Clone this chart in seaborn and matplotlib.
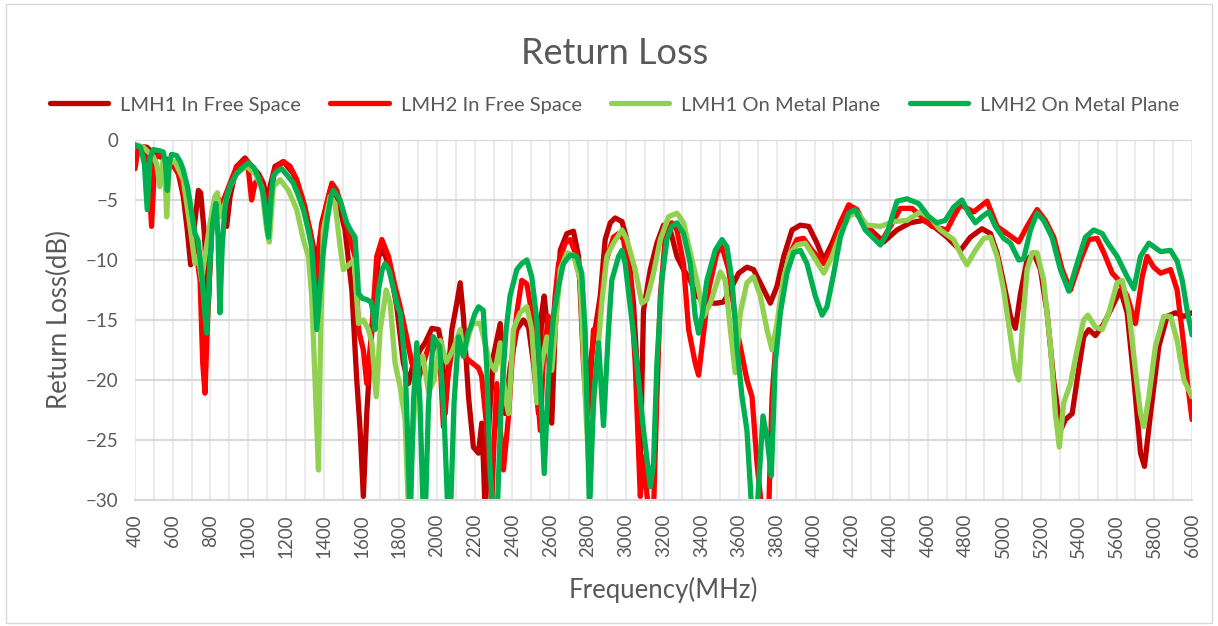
import matplotlib

matplotlib.use("Agg")
import matplotlib.pyplot as plt
import numpy as np
import pandas as pd
import seaborn as sns
from matplotlib.patches import Rectangle

SERIES_NAMES = [
    "LMH1 In Free Space",
    "LMH2 In Free Space",
    "LMH1 On Metal Plane",
    "LMH2 On Metal Plane",
]
SERIES_COLORS = ["#C00000", "#FF0000", "#92D050", "#00B050"]

X_TICKS = list(range(400, 6001, 200))
Y_TICKS = [0, -5, -10, -15, -20, -25, -30]

# (frequency MHz, return loss dB)
lmh1_free = [
    (400, -0.5), (462, -0.6), (497, -1.1), (532, -1.4), (585, -1.7), (630, -2.8), (656, -4.7),
    (677, -7.5), (695, -10.4), (713, -7.5), (736, -4.2), (748, -4.4), (766, -7.5), (789, -13.6),
    (806, -7.5), (833, -5.3), (860, -5.6), (886, -7.2), (904, -4.7), (939, -2.2), (983, -1.5),
    (1018, -2.2), (1054, -2.8), (1080, -3.6), (1100, -5.0), (1120, -3.6), (1142, -2.2),
    (1186, -1.8), (1239, -2.8), (1283, -4.7), (1327, -7.5), (1363, -10.3), (1390, -6.9),
    (1434, -4.2), (1469, -4.7), (1513, -7.5), (1549, -12.5), (1575, -20.0), (1593, -24.2),
    (1610, -29.7), (1628, -22.8), (1655, -15.8), (1690, -9.7), (1716, -9.2), (1752, -10.8),
    (1787, -13.9), (1822, -18.6), (1849, -20.3), (1875, -18.6), (1911, -17.5), (1937, -16.9),
    (1973, -15.7), (2008, -15.8), (2026, -17.2), (2043, -22.8), (2061, -19.0), (2079, -15.8),
    (2105, -13.6), (2123, -11.9), (2140, -14.7), (2167, -21.4), (2193, -25.6), (2220, -26.1),
    (2237, -23.6), (2246, -26.9), (2255, -31.0), (2270, -25.0), (2299, -18.0), (2335, -15.3),
    (2361, -22.8), (2387, -19.0), (2423, -15.8), (2458, -15.0), (2485, -15.6), (2511, -18.6),
    (2538, -22.8), (2555, -14.4), (2568, -13.0), (2586, -15.8), (2608, -23.6), (2626, -15.8),
    (2653, -9.2), (2688, -7.8), (2723, -7.6), (2750, -9.7), (2776, -18.6), (2794, -22.8),
    (2812, -18.6), (2838, -15.8), (2865, -13.0), (2891, -8.3), (2918, -6.9), (2944, -6.5),
    (2980, -6.8), (3006, -8.3), (3041, -13.6), (3059, -18.6), (3077, -26.4), (3094, -14.2),
    (3130, -10.8), (3165, -8.6), (3200, -7.1), (3236, -7.5), (3271, -9.7), (3306, -10.8),
    (3342, -11.7), (3377, -13.0), (3430, -13.6), (3483, -13.6), (3518, -13.5), (3554, -12.5),
    (3598, -11.1), (3642, -10.6), (3677, -10.8), (3722, -12.2), (3766, -13.6), (3801, -12.2),
    (3837, -9.7), (3881, -7.5), (3925, -7.1), (3969, -7.2), (4013, -8.6), (4049, -10.0),
    (4093, -8.6), (4137, -6.9), (4181, -5.6), (4225, -6.2), (4278, -7.2), (4366, -8.5),
    (4437, -7.5), (4507, -6.9), (4578, -6.7), (4631, -7.2), (4702, -8.1), (4773, -9.2),
    (4826, -8.1), (4887, -7.4), (4932, -7.8), (4967, -9.4), (5002, -11.9), (5038, -14.7),
    (5064, -15.7), (5091, -12.8), (5126, -10.0), (5161, -9.4), (5197, -10.8), (5232, -14.4),
    (5267, -20.0), (5303, -24.2), (5329, -23.3), (5365, -22.8), (5391, -20.0), (5426, -16.4),
    (5453, -15.8), (5488, -16.3), (5533, -15.3), (5586, -13.6), (5621, -12.5), (5656, -14.4),
    (5692, -20.0), (5727, -26.1), (5748, -27.2), (5780, -22.8), (5824, -17.2), (5868, -14.7),
    (5912, -14.4), (5957, -14.7), (6000, -14.4),
]

lmh2_free = [
    (400, -2.4), (418, -0.6), (453, -0.7), (471, -2.5), (488, -7.2), (506, -1.4), (541, -1.25),
    (568, -1.7), (603, -1.9), (638, -3.1), (674, -5.3), (700, -7.8), (727, -9.7), (745, -11.7),
    (759, -18.6), (771, -21.1), (783, -15.8), (806, -6.9), (833, -4.7), (860, -5.3), (877, -4.7),
    (904, -3.6), (939, -2.2), (983, -1.7), (1001, -2.5), (1018, -5.0), (1036, -3.6),
    (1063, -3.1), (1098, -5.6), (1115, -4.7), (1142, -2.5), (1186, -1.8), (1222, -2.2),
    (1257, -3.3), (1301, -5.6), (1336, -8.3), (1363, -13.0), (1381, -8.1), (1416, -5.3),
    (1443, -3.6), (1469, -4.2), (1504, -6.1), (1540, -8.3), (1566, -9.7), (1584, -15.8),
    (1610, -17.5), (1628, -20.3), (1655, -15.8), (1681, -9.7), (1708, -8.3), (1743, -9.7),
    (1778, -12.2), (1805, -13.9), (1831, -15.8), (1867, -18.6), (1900, -20.0), (1940, -18.0),
    (1973, -16.4), (2000, -17.0), (2017, -18.6), (2034, -23.9), (2055, -20.0), (2080, -17.5),
    (2110, -16.5), (2140, -18.0), (2180, -18.5), (2220, -19.0), (2237, -19.7), (2264, -24.0),
    (2290, -30.5), (2300, -26.0), (2317, -20.3), (2335, -24.0), (2352, -27.5), (2379, -23.0),
    (2397, -18.6), (2423, -14.4), (2449, -11.7), (2476, -12.0), (2502, -14.4), (2529, -20.0),
    (2547, -24.2), (2564, -18.0), (2591, -14.7), (2608, -16.9), (2626, -13.0), (2644, -10.3),
    (2679, -8.6), (2705, -8.3), (2741, -9.7), (2767, -13.0), (2794, -21.4), (2803, -22.8),
    (2829, -15.8), (2847, -16.1), (2891, -10.3), (2935, -8.1), (2962, -7.8), (2988, -8.3),
    (3024, -11.7), (3050, -18.6), (3077, -29.7), (3094, -26.4), (3121, -31.0), (3147, -31.0),
    (3165, -21.4), (3183, -13.0), (3209, -8.3), (3244, -6.9), (3271, -7.5), (3306, -10.3),
    (3333, -15.8), (3368, -18.6), (3386, -19.6), (3404, -17.2), (3439, -12.5), (3483, -9.4),
    (3510, -8.9), (3545, -10.8), (3589, -15.8), (3642, -20.0), (3669, -21.4), (3695, -26.9),
    (3722, -31.0), (3757, -31.0), (3775, -21.4), (3801, -15.8), (3837, -11.7), (3872, -9.4),
    (3907, -8.3), (3942, -8.2), (3987, -9.2), (4049, -10.3), (4093, -9.2), (4137, -6.9),
    (4181, -5.4), (4225, -5.8), (4278, -7.5), (4349, -8.6), (4402, -7.2), (4455, -5.7),
    (4516, -5.7), (4569, -6.4), (4622, -7.2), (4702, -7.5), (4737, -6.4), (4773, -5.4),
    (4843, -6.0), (4914, -5.1), (4967, -7.2), (5020, -7.8), (5082, -8.5), (5126, -7.2),
    (5179, -5.8), (5223, -6.7), (5267, -8.1), (5312, -10.8), (5356, -12.5), (5409, -10.0),
    (5453, -8.3), (5497, -8.2), (5533, -9.4), (5577, -11.1), (5612, -11.7), (5656, -13.0),
    (5700, -15.3), (5736, -11.4), (5762, -9.7), (5797, -10.6), (5833, -11.1), (5886, -10.8),
    (5921, -12.5), (5957, -17.2), (5974, -20.0), (6000, -23.3),
]

lmh1_metal = [
    (400, -0.4), (444, -0.6), (497, -1.4), (515, -2.0), (532, -3.9), (550, -1.7), (560, -3.0),
    (568, -6.4), (582, -1.9), (612, -1.8), (656, -3.3), (692, -7.2), (718, -10.3), (736, -9.7),
    (753, -11.7), (771, -9.7), (798, -6.9), (824, -4.7), (837, -4.4), (851, -6.4), (877, -5.3),
    (904, -3.9), (939, -2.8), (992, -2.2), (1036, -2.8), (1071, -3.9), (1098, -7.5),
    (1112, -8.5), (1133, -3.9), (1169, -3.3), (1213, -4.2), (1257, -5.8), (1292, -8.3),
    (1319, -9.7), (1336, -13.0), (1354, -20.0), (1372, -27.5), (1384, -15.8), (1398, -7.5),
    (1434, -4.7), (1460, -5.3), (1487, -8.9), (1504, -10.8), (1540, -10.3), (1561, -10.0),
    (1584, -15.3), (1610, -15.0), (1637, -15.8), (1655, -16.9), (1678, -21.4), (1699, -15.8),
    (1731, -12.5), (1752, -13.6), (1778, -18.6), (1805, -20.6), (1831, -23.3), (1849, -31.0),
    (1870, -25.0), (1895, -19.0), (1925, -18.0), (1955, -21.0), (1985, -20.0), (2017, -16.7),
    (2050, -18.5), (2085, -17.5), (2123, -15.8), (2140, -18.0), (2185, -15.3), (2229, -15.3),
    (2246, -16.4), (2281, -18.6), (2308, -19.2), (2335, -16.9), (2361, -21.4), (2379, -22.8),
    (2405, -15.8), (2440, -14.4), (2476, -13.9), (2502, -15.8), (2529, -21.9), (2555, -18.6),
    (2582, -16.4), (2608, -19.2), (2626, -15.8), (2653, -10.8), (2688, -9.4), (2723, -9.6),
    (2759, -11.7), (2785, -21.4), (2803, -26.9), (2820, -24.0), (2847, -18.6), (2873, -13.6),
    (2900, -9.7), (2935, -8.6), (2980, -7.5), (3006, -8.3), (3050, -10.8), (3085, -13.6),
    (3112, -13.3), (3147, -11.1), (3183, -8.3), (3227, -6.4), (3271, -6.1), (3306, -6.9),
    (3342, -9.4), (3377, -11.7), (3413, -14.7), (3448, -13.6), (3501, -11.0), (3527, -11.7),
    (3554, -15.8), (3580, -19.4), (3607, -14.4), (3642, -11.9), (3677, -11.4), (3713, -13.0),
    (3748, -15.8), (3775, -17.5), (3801, -15.3), (3837, -11.4), (3872, -9.4), (3907, -8.75),
    (3951, -8.6), (3995, -9.7), (4049, -11.1), (4093, -9.7), (4137, -7.8), (4181, -6.4),
    (4225, -6.0), (4278, -7.1), (4349, -7.2), (4419, -6.8), (4490, -6.7), (4560, -6.0),
    (4614, -6.5), (4667, -7.5), (4737, -8.3), (4781, -9.7), (4808, -10.4), (4852, -9.2),
    (4896, -8.2), (4932, -8.1), (4967, -9.7), (5002, -12.5), (5038, -16.4), (5064, -19.2),
    (5082, -20.0), (5100, -15.8), (5126, -10.8), (5153, -9.4), (5179, -9.4), (5214, -11.7),
    (5250, -17.2), (5276, -22.8), (5297, -25.6), (5320, -21.9), (5356, -20.3), (5391, -17.5),
    (5426, -15.0), (5448, -14.6), (5488, -15.6), (5524, -15.8), (5559, -14.4), (5603, -11.9),
    (5630, -11.7), (5665, -14.2), (5700, -19.2), (5727, -22.8), (5745, -23.9), (5771, -21.4),
    (5806, -17.2), (5850, -14.7), (5886, -14.7), (5921, -16.7), (5957, -20.0), (6000, -21.4),
]

lmh2_metal = [
    (400, -0.4), (430, -0.6), (450, -2.0), (465, -5.8), (480, -1.5), (497, -0.8), (530, -0.9),
    (550, -1.0), (562, -2.0), (571, -4.2), (582, -2.0), (594, -1.2), (620, -1.3), (640, -1.8),
    (656, -2.5), (680, -4.0), (700, -6.0), (718, -7.8), (735, -8.4), (755, -11.5), (770, -14.5),
    (780, -16.1), (795, -11.0), (810, -7.0), (829, -5.3), (840, -8.0), (850, -14.4), (862, -9.0),
    (875, -6.0), (886, -4.7), (910, -3.6), (939, -2.8), (970, -2.3), (1001, -1.9), (1030, -2.3),
    (1054, -3.1), (1080, -4.5), (1095, -6.5), (1107, -8.1), (1120, -5.0), (1133, -3.0),
    (1155, -2.6), (1177, -2.4), (1210, -3.0), (1239, -3.6), (1265, -4.6), (1292, -5.8),
    (1315, -7.3), (1336, -8.9), (1350, -12.0), (1363, -15.8), (1378, -13.0), (1398, -9.3),
    (1420, -6.5), (1440, -4.6), (1451, -4.2), (1470, -4.6), (1487, -5.0), (1505, -6.0),
    (1522, -6.9), (1545, -7.6), (1566, -8.1), (1576, -10.5), (1584, -12.8), (1605, -13.2),
    (1628, -13.3), (1650, -13.5), (1660, -14.2), (1672, -15.8), (1690, -12.5), (1710, -10.8),
    (1725, -10.3), (1745, -10.8), (1770, -12.4), (1790, -13.8), (1805, -14.4), (1831, -18.6),
    (1845, -25.0), (1858, -32.0), (1875, -22.0), (1893, -16.9), (1910, -22.0), (1925, -30.0),
    (1937, -32.0), (1955, -22.0), (1981, -16.4), (1995, -16.8), (2015, -17.2), (2040, -24.0),
    (2055, -30.0), (2070, -32.0), (2090, -22.0), (2114, -16.4), (2140, -18.0), (2165, -16.0),
    (2176, -15.7), (2200, -14.5), (2220, -13.9), (2245, -14.2), (2264, -19.0), (2280, -27.0),
    (2300, -32.0), (2317, -32.0), (2340, -22.0), (2365, -16.0), (2387, -13.0), (2423, -10.8),
    (2449, -10.3), (2476, -10.0), (2502, -11.4), (2529, -15.0), (2547, -20.0), (2568, -27.8),
    (2590, -20.0), (2617, -14.7), (2644, -12.2), (2670, -10.3), (2705, -9.6), (2741, -9.7),
    (2767, -11.1), (2785, -16.0), (2797, -24.0), (2808, -31.0), (2830, -21.4), (2856, -16.9),
    (2882, -23.8), (2908, -16.0), (2926, -11.7), (2962, -9.7), (2980, -9.2), (2997, -10.3),
    (3024, -13.9), (3059, -18.6), (3094, -24.2), (3130, -28.9), (3147, -27.0), (3165, -18.6),
    (3191, -11.7), (3218, -8.3), (3244, -7.2), (3271, -6.9), (3306, -7.8), (3342, -10.3),
    (3368, -14.7), (3386, -16.1), (3404, -14.7), (3430, -11.7), (3474, -9.2), (3510, -8.3),
    (3536, -8.9), (3563, -11.7), (3589, -17.2), (3616, -21.4), (3642, -24.2), (3668, -31.0),
    (3695, -31.0), (3727, -23.0), (3750, -25.0), (3771, -28.0), (3792, -18.6), (3819, -14.4),
    (3854, -11.1), (3889, -9.4), (3925, -9.2), (3960, -10.3), (4004, -13.0), (4040, -14.6),
    (4066, -13.9), (4102, -11.1), (4137, -8.1), (4181, -6.1), (4216, -5.8), (4269, -7.5),
    (4349, -8.75), (4384, -7.8), (4437, -5.1), (4490, -4.9), (4552, -5.3), (4605, -6.4),
    (4649, -6.9), (4693, -6.7), (4737, -5.6), (4781, -5.0), (4817, -6.1), (4852, -6.9),
    (4887, -6.4), (4923, -6.0), (4958, -7.2), (5002, -8.2), (5038, -8.6), (5082, -10.0),
    (5108, -9.9), (5144, -7.5), (5179, -6.1), (5214, -6.7), (5258, -8.1), (5303, -10.8),
    (5347, -12.6), (5391, -10.3), (5435, -8.1), (5479, -7.5), (5524, -7.8), (5550, -8.5),
    (5603, -9.7), (5656, -11.4), (5692, -12.4), (5727, -9.7), (5771, -8.6), (5833, -9.3),
    (5886, -9.2), (5921, -10.1), (5948, -11.7), (5974, -14.2), (6000, -16.25),
]


def build_frame():
    """Stack the four traces into one long table for seaborn."""
    frames = []
    for name, pts in zip(SERIES_NAMES, [lmh1_free, lmh2_free, lmh1_metal, lmh2_metal]):
        arr = np.array(pts, dtype=float)
        frames.append(pd.DataFrame({"freq": arr[:, 0], "rl": arr[:, 1], "series": name}))
    return pd.concat(frames, ignore_index=True)


def main():
    df = build_frame()

    sns.set_theme(style="white")
    plt.rcParams["font.family"] = ["Lato", "DejaVu Sans"]
    text_color = "#595959"

    fig = plt.figure(figsize=(12.18, 6.26), dpi=100)
    ax = fig.add_axes([0.1108, 0.2013, 0.8679, 0.5751])

    sns.lineplot(
        data=df,
        x="freq",
        y="rl",
        hue="series",
        hue_order=SERIES_NAMES,
        palette=SERIES_COLORS,
        estimator=None,
        sort=False,
        linewidth=3.8,
        solid_joinstyle="round",
        solid_capstyle="round",
        ax=ax,
    )

    ax.set_xlim(400, 6000)
    ax.set_ylim(-30, 0)
    ax.set_xticks(X_TICKS)
    ax.set_xticks(np.arange(400, 6001, 100), minor=True)
    ax.set_yticks(Y_TICKS)
    ax.set_xticklabels([str(t) for t in X_TICKS], rotation=90)
    ax.grid(axis="x", which="both", color="#EBEBEB", linewidth=1.5)
    ax.grid(axis="y", which="major", color="#D9D9D9", linewidth=1.5)
    ax.set_axisbelow(True)
    for side in ["top", "right", "left"]:
        ax.spines[side].set_visible(False)
    ax.spines["bottom"].set_color("#D9D9D9")
    ax.spines["bottom"].set_linewidth(1.5)
    ax.tick_params(axis="both", which="both", length=0, labelsize=13.5, colors=text_color)
    ax.tick_params(axis="y", pad=12)
    ax.tick_params(axis="x", pad=10)

    ax.set_xlabel("Frequency(MHz)", fontsize=18.5, color=text_color, labelpad=14)
    ax.set_ylabel("Return Loss(dB)", fontsize=18.5, color=text_color, labelpad=10)

    fig.text(0.5045, 1 - 53 / 626, "Return Loss", ha="center", va="center",
             fontsize=26, color=text_color)

    handles, labels = ax.get_legend_handles_labels()
    ax.get_legend().remove()
    fig.legend(
        handles,
        labels,
        loc="center",
        bbox_to_anchor=(0.5045, 1 - 105 / 626),
        ncol=4,
        frameon=False,
        fontsize=14.5,
        handlelength=2.9,
        handletextpad=0.6,
        columnspacing=1.45,
        labelcolor=text_color,
    )

    # chart area border
    fig.add_artist(Rectangle((0.005, 0.004), 0.99, 0.99, transform=fig.transFigure,
                             fill=False, edgecolor="#D9D9D9", linewidth=1))

    fig.savefig("out.png", dpi=100)


if __name__ == "__main__":
    main()
